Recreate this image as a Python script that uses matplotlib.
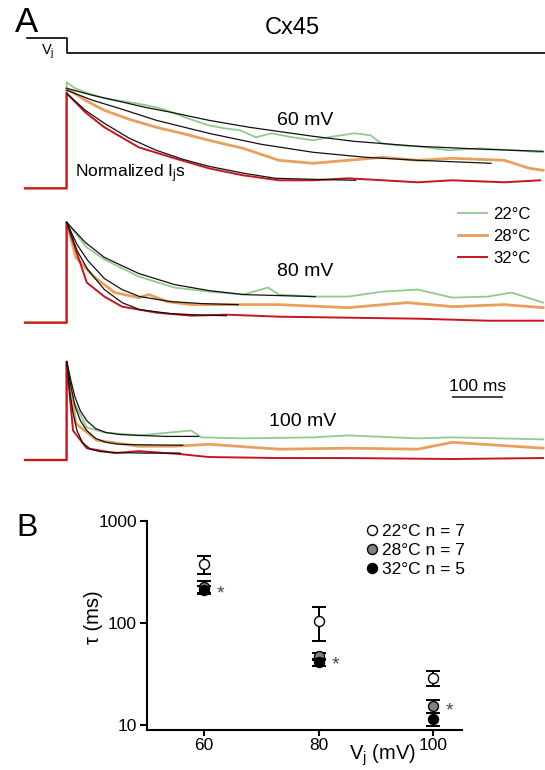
import matplotlib.pyplot as plt
from matplotlib.lines import Line2D

plt.rcParams['font.family'] = ['Liberation Sans', 'DejaVu Sans']
plt.rcParams['mathtext.fontset'] = 'custom'
plt.rcParams['mathtext.rm'] = 'Liberation Sans'
plt.rcParams['mathtext.it'] = 'Liberation Sans:italic'

# ---- panel A data: normalized Ij traces (time in ms)
PRE_T = [-85, -43, 0]
PRE_I = [0.0, 0.0, 0.0]

# 60 mV
T60_22 = [0, 17, 38, 77, 141, 183, 215, 247, 290, 322, 354, 386, 418, 461, 503, 546, 588, 620, 642, 674, 716, 780, 844, 908, 972]
I60_22 = [1.06, 1.0, 0.96, 0.90, 0.85, 0.81, 0.76, 0.70, 0.63, 0.60, 0.58, 0.51, 0.55, 0.51, 0.48, 0.52, 0.55, 0.53, 0.45, 0.43, 0.42, 0.38, 0.40, 0.38, 0.36]
T60_28 = [0, 38, 77, 128, 183, 235, 290, 360, 433, 503, 574, 646, 716, 787, 893, 944, 972]
I60_28 = [1.00, 0.88, 0.78, 0.69, 0.61, 0.55, 0.48, 0.40, 0.28, 0.25, 0.28, 0.31, 0.28, 0.30, 0.28, 0.20, 0.18]
T60_32 = [0, 38, 77, 147, 220, 290, 360, 433, 503, 574, 646, 716, 787, 893, 966]
I60_32 = [0.95, 0.76, 0.61, 0.41, 0.30, 0.20, 0.13, 0.08, 0.08, 0.10, 0.08, 0.06, 0.08, 0.06, 0.08]

F60_22_T = [0, 53, 107, 160, 213, 290, 373, 503, 586, 716, 853, 972]
F60_22_I = [1.0, 0.93, 0.87, 0.81, 0.76, 0.68, 0.61, 0.52, 0.47, 0.42, 0.39, 0.37]
F60_28_T = [0, 53, 107, 183, 290, 397, 503, 610, 716, 866]
F60_28_I = [0.98, 0.88, 0.80, 0.68, 0.55, 0.44, 0.36, 0.31, 0.28, 0.25]
F60_32_T = [0, 38, 77, 128, 183, 237, 290, 362, 426, 503, 590]
F60_32_I = [0.95, 0.78, 0.65, 0.50, 0.38, 0.29, 0.22, 0.15, 0.10, 0.09, 0.08]

# 80 mV
T80_22 = [0, 41, 77, 147, 220, 290, 360, 411, 433, 503, 574, 646, 716, 787, 859, 908, 972]
I80_22 = [1.0, 0.75, 0.63, 0.46, 0.35, 0.31, 0.28, 0.35, 0.28, 0.26, 0.26, 0.31, 0.33, 0.25, 0.26, 0.30, 0.20]
T80_28 = [0, 19, 55, 98, 147, 168, 205, 254, 326, 433, 574, 695, 787, 893, 972]
I80_28 = [1.0, 0.65, 0.46, 0.30, 0.25, 0.28, 0.21, 0.18, 0.18, 0.18, 0.15, 0.20, 0.16, 0.18, 0.15]
T80_32 = [0, 41, 77, 113, 183, 254, 326, 433, 574, 716, 859, 972]
I80_32 = [1.0, 0.40, 0.26, 0.16, 0.10, 0.07, 0.08, 0.06, 0.05, 0.04, 0.02, 0.02]

F80_22_T = [0, 38, 77, 147, 220, 290, 362, 507]
F80_22_I = [1.0, 0.80, 0.65, 0.49, 0.38, 0.32, 0.28, 0.26]
F80_28_T = [0, 21, 43, 77, 113, 149, 213, 277, 350]
F80_28_I = [1.0, 0.78, 0.62, 0.44, 0.33, 0.26, 0.21, 0.19, 0.18]
F80_32_T = [0, 21, 43, 77, 113, 149, 213, 277, 326]
F80_32_I = [1.0, 0.72, 0.53, 0.33, 0.20, 0.13, 0.09, 0.075, 0.07]

# 100 mV
T100_22 = [0, 13, 41, 77, 147, 254, 275, 360, 503, 574, 716, 787, 972]
I100_22 = [1.0, 0.61, 0.33, 0.28, 0.25, 0.30, 0.23, 0.22, 0.23, 0.25, 0.22, 0.23, 0.21]
T100_28 = [0, 19, 62, 147, 220, 290, 433, 574, 716, 787, 972]
I100_28 = [1.0, 0.37, 0.20, 0.14, 0.14, 0.16, 0.11, 0.12, 0.11, 0.18, 0.12]
T100_32 = [0, 13, 41, 98, 147, 232, 290, 433, 574, 787, 972]
I100_32 = [1.0, 0.30, 0.12, 0.07, 0.09, 0.06, 0.03, 0.02, 0.02, 0.01, 0.02]

F100_22_T = [0, 9, 17, 28, 41, 59, 80, 107, 149, 203, 269]
F100_22_I = [1.0, 0.80, 0.64, 0.50, 0.40, 0.32, 0.28, 0.26, 0.25, 0.24, 0.24]
F100_28_T = [0, 9, 17, 28, 41, 59, 80, 107, 149, 237]
F100_28_I = [1.0, 0.74, 0.55, 0.40, 0.30, 0.22, 0.18, 0.16, 0.155, 0.15]
F100_32_T = [0, 6, 13, 21, 32, 48, 69, 107, 160, 232]
F100_32_I = [1.0, 0.70, 0.48, 0.30, 0.18, 0.11, 0.085, 0.075, 0.07, 0.07]

VJ_T = [-80, 0, 0, 976]
VJ_LEVEL = [1, 1, 0, 0]

TEMPS = ['22°C', '28°C', '32°C']
TRACE_COLORS = ['#8fcb8f', '#e8a05c', '#c8141e']

# ---- panel B data
VJ = [60, 80, 100]
TAU_22 = [378, 105, 29]
ERR_22 = [76, 38, 5]
TAU_28 = [226, 47, 15.4]
ERR_28 = [28, 4, 2.3]
TAU_32 = [210, 41, 11.4]
ERR_32 = [20, 3.5, 1.7]
STAR_TAU = [206, 42, 14.7]
B_LABELS = ['22°C n = 7', '28°C n = 7', '32°C n = 5']

W, H = 545, 770
fig = plt.figure(figsize=(W / 100, H / 100), dpi=100)


def px_axes(x0, y0, x1, y1):
    return fig.add_axes([x0 / W, 1 - y1 / H, (x1 - x0) / W, (y1 - y0) / H])


def trace_axes(top, bottom, base, amp):
    ax = px_axes(0, top, W, bottom)
    ax.set_xlim(-136, 976)
    ax.set_ylim((base - bottom) / amp, (base - top) / amp)
    ax.axis('off')
    return ax


rows = [
    (trace_axes(70, 200, 188.3, 100),
     [(T60_22, I60_22), (T60_28, I60_28), (T60_32, I60_32)],
     [(F60_22_T, F60_22_I), (F60_28_T, F60_28_I), (F60_32_T, F60_32_I)]),
    (trace_axes(205, 335, 322.7, 100.4),
     [(T80_22, I80_22), (T80_28, I80_28), (T80_32, I80_32)],
     [(F80_22_T, F80_22_I), (F80_28_T, F80_28_I), (F80_32_T, F80_32_I)]),
    (trace_axes(345, 470, 460, 98.3),
     [(T100_22, I100_22), (T100_28, I100_28), (T100_32, I100_32)],
     [(F100_22_T, F100_22_I), (F100_28_T, F100_28_I), (F100_32_T, F100_32_I)]),
]

lws = [1.3, 2.0, 1.4]
for ax, traces, fits in rows:
    for (t, i), c, lw in zip(traces, TRACE_COLORS, lws):
        ax.plot(PRE_T + t, PRE_I + i, color=c, lw=lw, clip_on=False)
    for t, i in fits:
        ax.plot(t, i, color='#111111', lw=0.9, clip_on=False)

ax1, ax2, ax3 = rows[0][0], rows[1][0], rows[2][0]
ax1.text(486, 0.68, '60 mV', ha='center', va='center', fontsize=14)
ax2.text(486, 0.51, '80 mV', ha='center', va='center', fontsize=14)
ax3.text(482, 0.39, '100 mV', ha='center', va='center', fontsize=14)
ax1.text(18, 0.143, 'Normalized I$_\\mathregular{j}$s', ha='left', va='center', fontsize=12.5)

# scale bar
ax3.plot([788, 888], [0.64, 0.64], color='#333333', lw=1.3, clip_on=False)
ax3.text(838, 0.745, '100 ms', ha='center', va='center', fontsize=12.5)

# temperature legend
handles = [Line2D([], [], color=c, lw=lw) for c, lw in zip(TRACE_COLORS, lws)]
ax2.legend(handles, TEMPS, loc='upper left', bbox_to_anchor=(458 / W, 1 - 207 / H),
           bbox_transform=fig.transFigure, frameon=False, fontsize=12,
           handlelength=1.72, handletextpad=0.4, labelspacing=0.42,
           borderpad=0, borderaxespad=0)

# Vj step
axv = px_axes(0, 30, W, 62)
axv.set_xlim(-136, 976)
axv.set_ylim((53.3 - 62) / 15, (53.3 - 30) / 15)
axv.axis('off')
axv.plot(VJ_T, VJ_LEVEL, color='black', lw=1.2, clip_on=False)
axv.text(-38, 0.09, 'V$_\\mathregular{j}$', ha='center', va='center', fontsize=10.5)

fig.text(26.5 / W, 1 - 23 / H, 'A', ha='center', va='center', fontsize=25)
fig.text(292.5 / W, 1 - 28.5 / H, 'Cx45', ha='center', va='center', fontsize=17)
fig.text(27 / W, 1 - 528 / H, 'B', ha='center', va='center', fontsize=23)

# ---- panel B
axb = px_axes(146.7, 520.7, 461.7, 730)
axb.set_yscale('log')
ebk = dict(fmt='none', ecolor='black', elinewidth=1.4, capsize=5.2, capthick=1.4)
axb.errorbar(VJ, TAU_22, yerr=ERR_22, **ebk)
axb.errorbar(VJ, TAU_28, yerr=ERR_28, **ebk)
axb.errorbar(VJ, TAU_32, yerr=ERR_32, **ebk)
mk = dict(ls='none', marker='o', ms=7.2, mec='black', mew=1.0)
axb.plot(VJ, TAU_22, mfc='white', label=B_LABELS[0], **mk)
axb.plot(VJ, TAU_28, mfc='#808080', label=B_LABELS[1], **mk)
axb.plot(VJ, TAU_32, mfc='black', label=B_LABELS[2], **mk)
for v, s in zip(VJ, STAR_TAU):
    axb.annotate('*', (v, s), xytext=(12, -2.5), textcoords='offset points',
                 ha='center', va='center', fontsize=14, color='#444444')

axb.set_xlim(50, 105)
axb.set_ylim(8.93, 1000)
axb.set_yticks([10, 100, 1000])
axb.set_yticklabels(['10', '100', '1000'])
axb.minorticks_off()
axb.set_xticks(VJ)
axb.set_xticklabels(['60', '80', '100'])
for s in ['top', 'right']:
    axb.spines[s].set_visible(False)
for s in ['left', 'bottom']:
    axb.spines[s].set_linewidth(1.5)
axb.tick_params(axis='both', width=1.5, length=5, labelsize=12.5, pad=2)
axb.tick_params(axis='x', length=4)
axb.text(-0.1695, 0.541, 'τ (ms)', transform=axb.transAxes, rotation=90,
         ha='center', va='center', fontsize=14.5)
axb.text(0.75, -0.119, 'V$_\\mathregular{j}$ (mV)', transform=axb.transAxes,
         ha='center', va='center', fontsize=14.5)
axb.legend(loc='upper left', bbox_to_anchor=(364.7 / W, 1 - 524 / H),
           bbox_transform=fig.transFigure, frameon=False, fontsize=12.5,
           handlelength=0.8, handletextpad=0.18, labelspacing=0.22,
           borderpad=0, borderaxespad=0)

fig.savefig('out.png', dpi=100)
